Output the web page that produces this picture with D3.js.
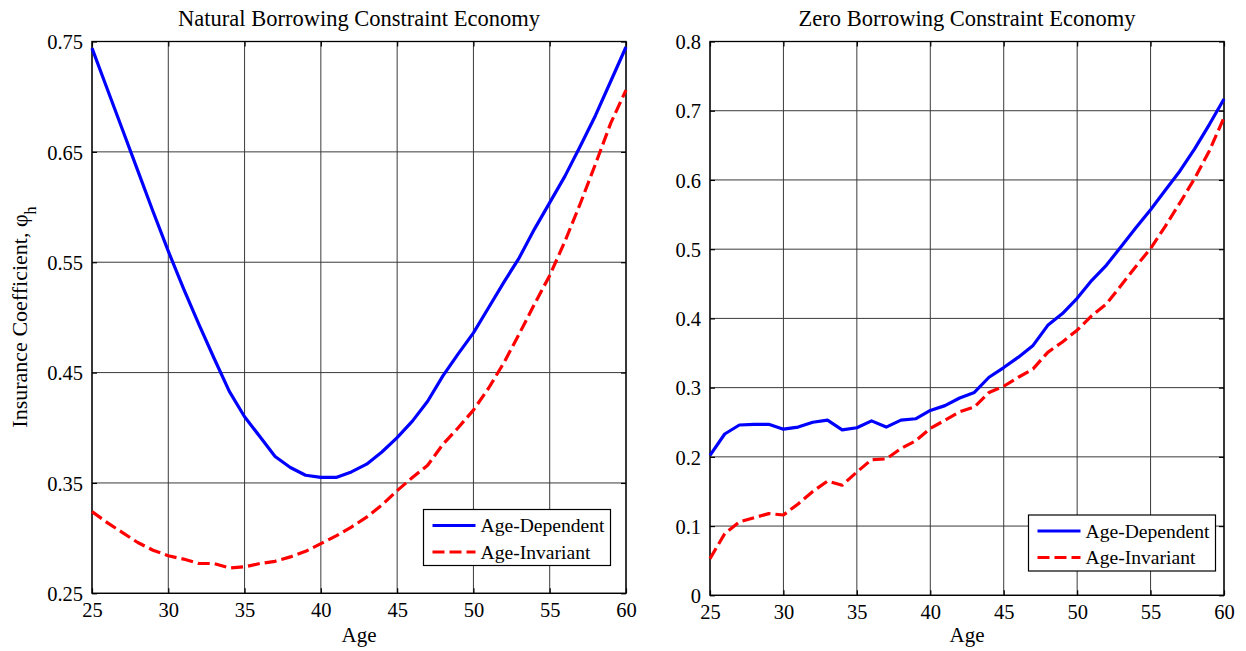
<!DOCTYPE html>
<html>
<head>
<meta charset="utf-8">
<script src="https://cdn.jsdelivr.net/npm/d3@7"></script>
<style>
  html, body { margin: 0; padding: 0; background: #fff; }
  svg { display: block; }
  text { font-family: "Liberation Serif", "Times New Roman", serif; fill: #000; }
</style>
</head>
<body>
<svg id="chart" width="1246" height="651"></svg>
<script>
// ---------------- data ----------------
const ages = [25,26,27,28,29,30,31,32,33,34,35,36,37,38,39,40,41,42,43,44,45,46,47,48,49,50,51,52,53,54,55,56,57,58,59,60];

const naturalAgeDependent = [0.744,0.707,0.670,0.633,0.596,0.560,0.526,0.494,0.463,0.433,0.410,0.392,0.374,0.364,0.357,0.355,0.355,0.360,0.367,0.378,0.391,0.406,0.424,0.447,0.467,0.486,0.509,0.532,0.554,0.580,0.604,0.628,0.655,0.683,0.714,0.745];
const naturalAgeInvariant = [0.324,0.314,0.305,0.296,0.289,0.284,0.281,0.277,0.277,0.273,0.274,0.277,0.279,0.283,0.288,0.295,0.302,0.310,0.319,0.330,0.343,0.355,0.366,0.385,0.400,0.416,0.436,0.459,0.485,0.512,0.538,0.569,0.603,0.639,0.676,0.706];

const zeroAgeDependent = [0.202,0.233,0.246,0.247,0.247,0.240,0.243,0.250,0.253,0.239,0.242,0.252,0.243,0.253,0.255,0.267,0.274,0.285,0.293,0.315,0.329,0.344,0.361,0.390,0.407,0.429,0.455,0.477,0.504,0.531,0.557,0.585,0.613,0.645,0.680,0.717];
const zeroAgeInvariant = [0.053,0.089,0.106,0.112,0.118,0.116,0.132,0.150,0.165,0.159,0.178,0.196,0.197,0.212,0.223,0.241,0.253,0.265,0.272,0.293,0.302,0.315,0.327,0.351,0.366,0.383,0.404,0.421,0.448,0.475,0.501,0.533,0.567,0.602,0.642,0.690];

const xTicks = [25,30,35,40,45,50,55,60];
const leftYTicks = [0.25,0.35,0.45,0.55,0.65,0.75];
const rightYTicks = [0,0.1,0.2,0.3,0.4,0.5,0.6,0.7,0.8];

const titles = ["Natural Borrowing Constraint Economy", "Zero Borrowing Constraint Economy"];
const seriesNames = ["Age-Dependent", "Age-Invariant"];
const seriesColors = ["#0000ff", "#ff0000"];

// ---------------- drawing ----------------
const svg = d3.select("#chart");
const SERIF = '"Liberation Serif", "Times New Roman", serif';

const panels = [
  { x0: 92, x1: 626, y0: 593.3, y1: 41.5, yDomain: [0.25, 0.75], yTicks: leftYTicks,
    yFmt: d3.format(".2f"), series: [naturalAgeDependent, naturalAgeInvariant], title: titles[0],
    legend: { x: 423.5, y: 509.5, w: 187, h: 56 } },
  { x0: 710, x1: 1224, y0: 595.3, y1: 41.5, yDomain: [0, 0.8], yTicks: rightYTicks,
    yFmt: d => d === 0 ? "0" : d3.format(".1f")(d), series: [zeroAgeDependent, zeroAgeInvariant], title: titles[1],
    legend: { x: 1028.5, y: 515, w: 187, h: 56 } }
];

panels.forEach((p, pi) => {
  const x = d3.scaleLinear().domain([25, 60]).range([p.x0, p.x1]);
  const y = d3.scaleLinear().domain(p.yDomain).range([p.y0, p.y1]);
  const g = svg.append("g");

  // grid
  g.selectAll(".vg").data(xTicks).enter().append("line")
    .attr("x1", d => x(d)).attr("x2", d => x(d)).attr("y1", p.y0).attr("y2", p.y1)
    .attr("stroke", "#3a3a3a").attr("stroke-width", 1);
  g.selectAll(".hg").data(p.yTicks).enter().append("line")
    .attr("x1", p.x0).attr("x2", p.x1).attr("y1", d => y(d)).attr("y2", d => y(d))
    .attr("stroke", "#3a3a3a").attr("stroke-width", 1);

  // axes via d3 axis (inside ticks)
  const fs = "20.5px";
  const axB = g.append("g").attr("transform", `translate(0,${p.y0})`)
    .call(d3.axisBottom(x).tickValues(xTicks).tickSize(-5).tickPadding(9).tickFormat(d3.format("d")));
  const axT = g.append("g").attr("transform", `translate(0,${p.y1})`)
    .call(d3.axisTop(x).tickValues(xTicks).tickSize(-5).tickFormat(""));
  const axL = g.append("g").attr("transform", `translate(${p.x0},0)`)
    .call(d3.axisLeft(y).tickValues(p.yTicks).tickSize(-5).tickPadding(9).tickFormat(p.yFmt));
  const axR = g.append("g").attr("transform", `translate(${p.x1},0)`)
    .call(d3.axisRight(y).tickValues(p.yTicks).tickSize(-5).tickFormat(""));
  [axB, axT, axL, axR].forEach(a => {
    a.attr("font-family", SERIF).attr("font-size", null);
    a.select(".domain").remove();
    a.selectAll("line").attr("stroke", "#000").attr("stroke-width", 1.2);
    a.selectAll("text").style("font-family", SERIF).style("font-size", fs).attr("fill", "#000");
  });
  axB.selectAll("text").attr("dy", "0.71em").attr("y", 9);
  axL.selectAll("text").attr("dy", "0.35em");

  // box
  g.append("rect").attr("x", p.x0).attr("y", p.y1).attr("width", p.x1 - p.x0).attr("height", p.y0 - p.y1)
    .attr("fill", "none").attr("stroke", "#000").attr("stroke-width", 1.3);

  // lines
  const line = d3.line().x((d, i) => x(ages[i])).y(d => y(d));
  p.series.forEach((s, si) => {
    g.append("path").datum(s).attr("d", line)
      .attr("fill", "none").attr("stroke", seriesColors[si]).attr("stroke-width", 3.2)
      .attr("stroke-linejoin", "round")
      .attr("stroke-dasharray", si === 1 ? "12,5" : null);
  });

  // title
  g.append("text").attr("x", (p.x0 + p.x1) / 2).attr("y", 26).attr("text-anchor", "middle")
    .style("font-size", "22.5px").text(p.title);
  // x label
  g.append("text").attr("x", (p.x0 + p.x1) / 2).attr("y", 642).attr("text-anchor", "middle")
    .style("font-size", "21px").text("Age");

  // legend
  const L = p.legend;
  const lg = g.append("g");
  lg.append("rect").attr("x", L.x).attr("y", L.y).attr("width", L.w).attr("height", L.h)
    .attr("fill", "#fff").attr("stroke", "#000").attr("stroke-width", 1.2);
  seriesNames.forEach((n, si) => {
    const cy = L.y + 16 + si * 26.5;
    lg.append("line").attr("x1", L.x + 9).attr("x2", L.x + 52).attr("y1", cy).attr("y2", cy)
      .attr("stroke", seriesColors[si]).attr("stroke-width", 3.2)
      .attr("stroke-dasharray", si === 1 ? "12,5" : null);
    lg.append("text").attr("x", L.x + 57).attr("y", cy).attr("dy", "0.35em")
      .style("font-size", "19.6px").text(n);
  });
});

// y label (left panel)
const yl = svg.append("text").attr("transform", "translate(27,317) rotate(-90)")
  .attr("text-anchor", "middle").style("font-size", "22px");
yl.append("tspan").text("Insurance Coefficient, φ");
yl.append("tspan").attr("baseline-shift", "sub").style("font-size", "16px").text("h");
</script>
</body>
</html>
